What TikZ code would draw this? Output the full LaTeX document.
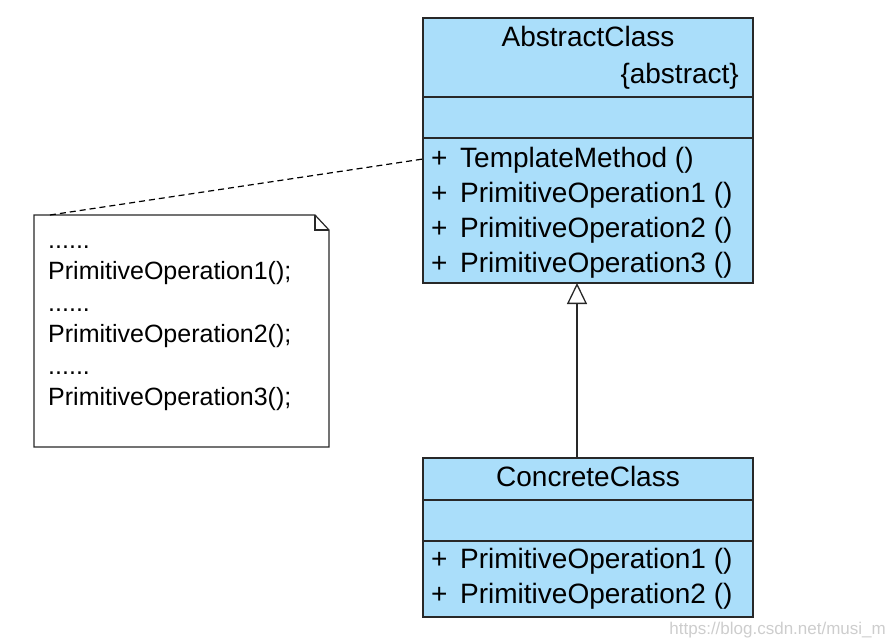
\documentclass[tikz,border=0pt]{standalone}
\usepackage{fontspec}
\setmainfont{Liberation Sans}
\usetikzlibrary{arrows.meta}
\definecolor{classfill}{RGB}{170,222,250}
\definecolor{edgecol}{RGB}{40,40,40}
\definecolor{wmark}{RGB}{205,205,205}
\tikzset{
  classbox/.style={draw=edgecol, line width=1.3pt, fill=classfill},
  sepline/.style={draw=edgecol, line width=1.3pt},
  big/.style={inner sep=0pt, font=\fontsize{28}{34}\selectfont},
  small/.style={inner sep=0pt, font=\fontsize{25}{30}\selectfont},
  notebox/.style={draw=edgecol, line width=1.2pt, fill=white},
  notelink/.style={draw=black, line width=1.2pt, dash pattern=on 6pt off 4pt},
  genline/.style={draw=edgecol, line width=1.3pt, -{Triangle[open, length=21pt, width=20pt, fill=white]}}
}
\begin{document}
\begin{tikzpicture}[x=1pt, y=-1pt]
\useasboundingbox (0,0) rectangle (896,643);
% AbstractClass
\path[classbox] (423,18) rectangle (753,283);
\coordinate (absTL) at (423,18);
\coordinate (absBR) at (753,283);
\draw[sepline] (423,97) -- (753,97);
\draw[sepline] (423,138) -- (753,138);
\node[big, anchor=base] (absname) at (588,46) {AbstractClass};
\node[big, anchor=base east] (abstag) at (739,83) {\{abstract\}};
\node[big, anchor=base west] (ap1) at (431,167) {+};
\node[big, anchor=base west] (ao1) at (460,167) {TemplateMethod ()};
\node[big, anchor=base west] (ap2) at (431,202) {+};
\node[big, anchor=base west] (ao2) at (460,202) {PrimitiveOperation1 ()};
\node[big, anchor=base west] (ap3) at (431,237) {+};
\node[big, anchor=base west] (ao3) at (460,237) {PrimitiveOperation2 ()};
\node[big, anchor=base west] (ap4) at (431,272) {+};
\node[big, anchor=base west] (ao4) at (460,272) {PrimitiveOperation3 ()};
\coordinate (absbottom) at (577,283);
\coordinate (abstplink) at (423,159);
% ConcreteClass
\path[classbox] (423,458) rectangle (753,617);
\draw[sepline] (423,500) -- (753,500);
\draw[sepline] (423,541) -- (753,541);
\node[big, anchor=base] (conname) at (588,486) {ConcreteClass};
\node[big, anchor=base west] (cp1) at (431,568) {+};
\node[big, anchor=base west] (co1) at (460,568) {PrimitiveOperation1 ()};
\node[big, anchor=base west] (cp2) at (431,603) {+};
\node[big, anchor=base west] (co2) at (460,603) {PrimitiveOperation2 ()};
\coordinate (contop) at (577,458);
% Note
\path[notebox] (34,215) -- (315,215) -- (329,230) -- (329,447) -- (34,447) -- cycle;
\draw[edgecol, line width=1.1pt] (315,215) -- (315,230) -- (329,230);
\coordinate (notetop) at (50,215);
\node[small, anchor=base west] (n1) at (48,248) {......};
\node[small, anchor=base west] (n2) at (48,279) {PrimitiveOperation1();};
\node[small, anchor=base west] (n3) at (48,311) {......};
\node[small, anchor=base west] (n4) at (48,342) {PrimitiveOperation2();};
\node[small, anchor=base west] (n5) at (48,374) {......};
\node[small, anchor=base west] (n6) at (48,405) {PrimitiveOperation3();};
% connectors
\draw[notelink] (notetop) -- (abstplink);
\draw[genline] (contop) -- (absbottom);
% watermark
\node[inner sep=0pt, anchor=base east, text=wmark, font=\fontsize{17}{20}\selectfont] (wm) at (886,634) {https://blog.csdn.net/musi\_m};
\end{tikzpicture}
\end{document}
